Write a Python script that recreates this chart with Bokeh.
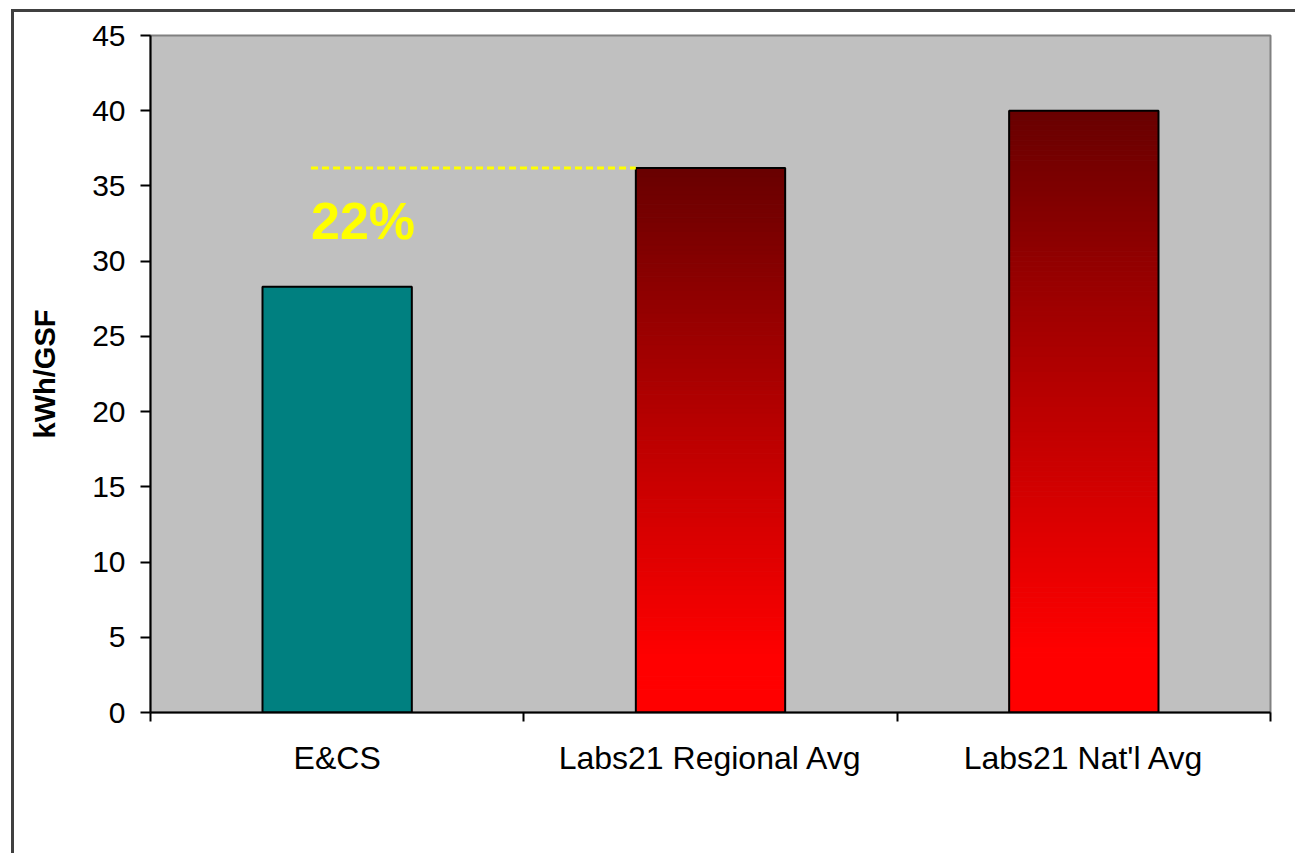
from bokeh.plotting import figure
from bokeh.models import FixedTicker, Range1d, Label
from bokeh.embed import file_html
from bokeh.resources import INLINE

categories = ["E&CS", "Labs21 Regional Avg", "Labs21 Nat'l Avg"]
values = [28.3, 36.2, 40.0]
y_ticks = [0, 5, 10, 15, 20, 25, 30, 35, 40, 45]
savings_label = "22%"
bar_width = 0.4

p = figure(width=1284, height=844, output_backend="svg", toolbar_location=None,
           x_range=Range1d(0, len(categories)), y_range=Range1d(0, 45),
           min_border_left=136, min_border_right=28, min_border_top=23, min_border_bottom=144)
p.background_fill_color = "#C0C0C0"
p.border_fill_color = "white"
p.outline_line_color = "#808080"
p.outline_line_width = 2
p.xgrid.visible = False
p.ygrid.visible = False
p.styles = {"border-top": "3px solid #404040", "border-left": "3px solid #404040",
            "margin-left": "11px", "margin-top": "9px"}

centers = [i + 0.5 for i in range(len(categories))]

# teal bar
p.vbar(x=[centers[0]], top=[values[0]], width=bar_width, fill_color="#008080", line_color=None)

# gradient red bars drawn as stacked slices
n = 120
top_rgb = (105, 0, 0)
bot_rgb = (255, 0, 0)
for c, v in zip(centers[1:], values[1:]):
    xs, bots, tops, cols = [], [], [], []
    for i in range(n):
        f = i / (n - 1)  # 0 bottom .. 1 top
        g = max(0.0, (f - 0.1) / 0.9)
        r = int(round(bot_rgb[0] + (top_rgb[0] - bot_rgb[0]) * g))
        xs.append(c)
        bots.append(v * i / n)
        tops.append(v * (i + 1) / n)
        cols.append("#%02x%02x%02x" % (r, 0, 0))
    p.vbar(x=xs, bottom=bots, top=tops, width=bar_width, fill_color=cols,
           line_color=cols, line_width=1)

# outlines
p.vbar(x=centers, top=values, width=bar_width, fill_alpha=0, line_color="black", line_width=2)

# dashed comparison line
p.line(x=[0.43, centers[1] - bar_width / 2], y=[values[1], values[1]],
       line_color="#FFFF00", line_width=3, line_dash="7 4")
p.add_layout(Label(x=0.43, y=32.7, text=savings_label, text_color="#FFFF00",
                   text_font="Liberation Sans", text_font_style="bold",
                   text_font_size="52px", text_baseline="alphabetic"))

# x axis
p.xaxis.ticker = FixedTicker(ticks=centers, minor_ticks=list(range(len(categories) + 1)))
p.xaxis.major_label_overrides = {c: lab for c, lab in zip(centers, categories)}
p.xaxis.major_tick_out = 0
p.xaxis.major_tick_in = 0
p.xaxis.minor_tick_out = 9
p.xaxis.minor_tick_in = 0
p.xaxis.minor_tick_line_color = "black"
p.xaxis.minor_tick_line_width = 2
p.xaxis.axis_line_color = "black"
p.xaxis.axis_line_width = 2
p.xaxis.major_label_standoff = 18
p.xaxis.major_label_text_font = "Liberation Sans"
p.xaxis.major_label_text_font_size = "32px"
p.xaxis.major_label_text_color = "black"

# y axis
p.yaxis.ticker = FixedTicker(ticks=y_ticks)
p.yaxis.major_tick_out = 10
p.yaxis.major_tick_in = 0
p.yaxis.minor_tick_out = 0
p.yaxis.minor_tick_in = 0
p.yaxis.major_tick_line_width = 2
p.yaxis.axis_line_color = "black"
p.yaxis.axis_line_width = 2
p.yaxis.major_label_standoff = 15
p.yaxis.major_label_text_font = "Liberation Sans"
p.yaxis.major_label_text_font_size = "30px"
p.yaxis.major_label_text_color = "black"
p.yaxis.axis_label = "kWh/GSF"
p.yaxis.axis_label_text_font = "Liberation Sans"
p.yaxis.axis_label_text_font_style = "bold"
p.yaxis.axis_label_text_font_size = "29px"
p.yaxis.axis_label_text_color = "black"
p.yaxis.axis_label_standoff = 28

open("out.html", "w").write(file_html(p, INLINE))
